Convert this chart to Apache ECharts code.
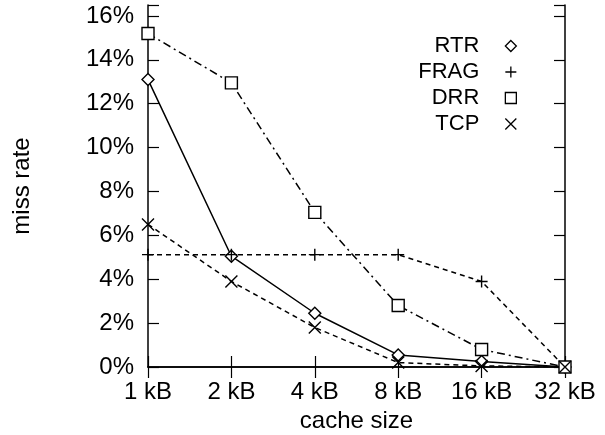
<!DOCTYPE html>
<html>
<head>
<meta charset="utf-8">
<script src="https://cdn.jsdelivr.net/npm/echarts@6/dist/echarts.min.js"></script>
<style>html,body{margin:0;padding:0;background:#fff}#c{width:605px;height:435px}</style>
</head>
<body>
<div id="c"></div>
<script>
const categories = ['1 kB', '2 kB', '4 kB', '8 kB', '16 kB', '32 kB'];
const rtr  = [13.1, 5.05, 2.45, 0.55, 0.25, 0];
const frag = [5.12, 5.12, 5.12, 5.12, 3.9, 0];
const drr  = [15.2, 12.95, 7.05, 2.8, 0.8, 0];
const tcp  = [6.5, 3.9, 1.8, 0.2, 0.05, 0];
const seriesNames = ['RTR', 'FRAG', 'DRR', 'TCP'];
const yTicks = [0, 2, 4, 6, 8, 10, 12, 14, 16];

const FONT = 'Liberation Sans';
const PLUS = 'path://M0,5L10,5M5,0L5,10';
const CROSS = 'path://M0,0L10,10M10,0L0,10';
const symbols = {RTR: 'diamond', FRAG: PLUS, DRR: 'rect', TCP: CROSS};
const sizes = {RTR: 12, FRAG: 12, DRR: 12, TCP: 12};
const dashes = {RTR: 'solid', FRAG: [5, 4], DRR: [8, 4, 2, 4], TCP: [5, 4]};
const dataMap = {RTR: rtr, FRAG: frag, DRR: drr, TCP: tcp};

const chart = echarts.init(document.getElementById('c'), null, {renderer: 'canvas'});
const axisLineStyle = {color: '#000', width: 1.5};
const tickStyle = {color: '#000', width: 1.2};

chart.setOption({
  animation: false,
  backgroundColor: '#fff',
  textStyle: {fontFamily: FONT, color: '#000'},
  grid: {left: 148, right: 40, top: 5, bottom: 68, containLabel: false, outerBoundsMode: 'none'},
  legend: {
    orient: 'vertical',
    right: 88,
    top: 35,
    align: 'right',
    itemGap: 4,
    itemWidth: 11,
    itemHeight: 11,
    padding: 0,
    textStyle: {fontFamily: FONT, fontSize: 22, color: '#000', lineHeight: 19, height: 19, padding: [0, 21, 0, 0]},
    data: seriesNames.map(n => ({
      name: n,
      icon: symbols[n],
      itemStyle: {color: '#fff', borderColor: '#000', borderWidth: 1.3}
    }))
  },
  xAxis: [{
    type: 'category',
    data: categories,
    boundaryGap: false,
    position: 'bottom',
    name: 'cache size',
    nameLocation: 'middle',
    nameGap: 38,
    nameTextStyle: {fontFamily: FONT, fontSize: 24, color: '#000'},
    axisLine: {show: true, lineStyle: axisLineStyle},
    axisTick: {show: true, inside: true, length: 11, lineStyle: tickStyle},
    axisLabel: {fontFamily: FONT, fontSize: 24, color: '#000', margin: 13},
    splitLine: {show: false}
  }, {
    type: 'category',
    data: categories,
    boundaryGap: false,
    position: 'top',
    axisLine: {show: true, lineStyle: axisLineStyle},
    axisTick: {show: true, inside: true, length: 11, lineStyle: tickStyle},
    axisLabel: {show: false},
    splitLine: {show: false}
  }],
  yAxis: [{
    type: 'value',
    min: 0,
    max: 16.5,
    interval: 2,
    position: 'left',
    name: 'miss rate',
    nameLocation: 'middle',
    nameGap: 114,
    nameRotate: 90,
    nameTextStyle: {fontFamily: FONT, fontSize: 24, color: '#000'},
    axisLine: {show: true, lineStyle: axisLineStyle},
    axisTick: {show: true, inside: true, length: 11, lineStyle: tickStyle},
    axisLabel: {
      fontFamily: FONT, fontSize: 24, color: '#000', margin: 14,
      formatter: v => yTicks.indexOf(v) >= 0 ? v + '%' : ''
    },
    splitLine: {show: false}
  }, {
    type: 'value',
    min: 0,
    max: 16.5,
    interval: 2,
    position: 'right',
    axisLine: {show: true, lineStyle: axisLineStyle},
    axisTick: {show: true, inside: true, length: 11, lineStyle: tickStyle},
    axisLabel: {show: false},
    splitLine: {show: false}
  }],
  series: seriesNames.map(n => ({
    name: n,
    type: 'line',
    data: dataMap[n],
    xAxisIndex: 0,
    yAxisIndex: 0,
    symbol: symbols[n],
    symbolSize: sizes[n],
    showAllSymbol: true,
    lineStyle: {color: '#000', width: 1.5, type: dashes[n]},
    itemStyle: {color: '#fff', borderColor: '#000', borderWidth: 1.4},
    emphasis: {disabled: true}
  }))
});
</script>
</body>
</html>
